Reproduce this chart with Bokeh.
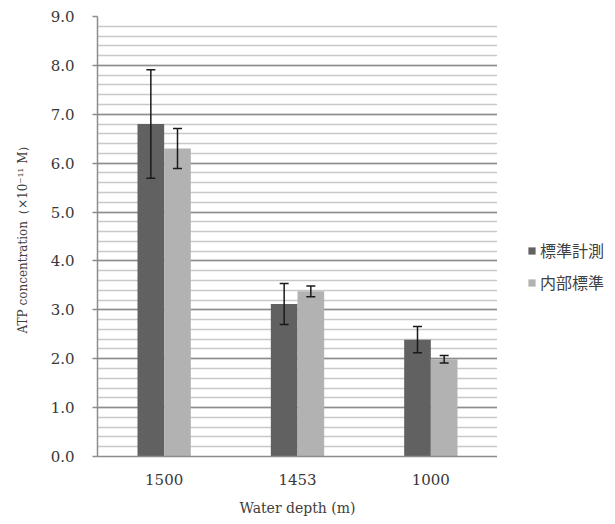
from bokeh.plotting import figure
from bokeh.layouts import row
from bokeh.models import FactorRange, ColumnDataSource, Range1d, SingleIntervalTicker, Legend, LegendItem, NumeralTickFormatter
from bokeh.transform import dodge
from bokeh.embed import file_html
from bokeh.resources import INLINE

depths = ["1500", "1453", "1000"]
standard = [6.80, 3.12, 2.39]
standard_err = [1.11, 0.42, 0.27]
internal = [6.30, 3.38, 1.99]
internal_err = [0.41, 0.11, 0.075]
series_names = ["標準計測", "内部標準"]

src = ColumnDataSource(dict(
    x=depths,
    s=standard, s_lo=[v - e for v, e in zip(standard, standard_err)], s_hi=[v + e for v, e in zip(standard, standard_err)],
    i=internal, i_lo=[v - e for v, e in zip(internal, internal_err)], i_hi=[v + e for v, e in zip(internal, internal_err)],
))

SERIF = "DejaVu Serif"
c_dark = "#616161"
c_light = "#b2b2b2"

p = figure(x_range=FactorRange(*depths, range_padding=0), y_range=Range1d(0, 9),
           width=497, height=524, output_backend="svg", toolbar_location=None,
           min_border_left=97, min_border_right=0, min_border_top=16, min_border_bottom=68)
p.outline_line_color = None
p.background_fill_color = "white"

r1 = p.vbar(x=dodge("x", -0.1, range=p.x_range), top="s", width=0.2, source=src,
            fill_color=c_dark, line_color=None)
r2 = p.vbar(x=dodge("x", 0.1, range=p.x_range), top="i", width=0.2, source=src,
            fill_color=c_light, line_color=None)

for off, lo, hi in [(-0.1, "s_lo", "s_hi"), (0.1, "i_lo", "i_hi")]:
    xd = dodge("x", off, range=p.x_range)
    p.segment(x0=xd, x1=xd, y0=lo, y1=hi, source=src, line_color="#1a1a1a", line_width=1.5)
    p.scatter(x=xd, y=lo, source=src, marker="dash", size=9, line_color="#1a1a1a", line_width=1.5)
    p.scatter(x=xd, y=hi, source=src, marker="dash", size=9, line_color="#1a1a1a", line_width=1.5)

# y axis
p.yaxis.ticker = SingleIntervalTicker(interval=1, num_minor_ticks=5)
p.yaxis.formatter = NumeralTickFormatter(format="0.0")
p.yaxis.axis_line_color = "#8c8c8c"
p.yaxis.axis_line_width = 1.5
p.yaxis.major_tick_line_color = "#8c8c8c"
p.yaxis.major_tick_line_width = 1.5
p.yaxis.major_tick_out = 5
p.yaxis.major_tick_in = 0
p.yaxis.minor_tick_line_color = None
p.yaxis.major_label_standoff = 18
p.yaxis.major_label_text_font = SERIF
p.yaxis.major_label_text_font_size = "15px"
p.yaxis.major_label_text_color = "#383838"
p.yaxis.axis_label = "ATP concentration（×10⁻¹¹ M）"
p.yaxis.axis_label_text_font = SERIF
p.yaxis.axis_label_text_font_size = "12px"
p.yaxis.axis_label_text_font_style = "normal"
p.yaxis.axis_label_text_color = "#404040"
p.yaxis.axis_label_standoff = 18

# x axis
p.xaxis.axis_line_color = "#8c8c8c"
p.xaxis.axis_line_width = 1.5
p.xaxis.major_tick_line_color = None
p.xaxis.minor_tick_line_color = None
p.xaxis.major_tick_out = 0
p.xaxis.major_label_standoff = 17
p.xaxis.major_label_text_font = SERIF
p.xaxis.major_label_text_font_size = "15px"
p.xaxis.major_label_text_color = "#383838"
p.xaxis.axis_label = "Water depth (m)"
p.xaxis.axis_label_text_font = SERIF
p.xaxis.axis_label_text_font_size = "14px"
p.xaxis.axis_label_text_font_style = "normal"
p.xaxis.axis_label_text_color = "#404040"
p.xaxis.axis_label_standoff = 12

p.xgrid.grid_line_color = None
p.ygrid.grid_line_color = "#8c8c8c"
p.ygrid.grid_line_width = 1.5
p.ygrid.minor_grid_line_color = "#c8c8c8"
p.ygrid.minor_grid_line_width = 1.5

# legend panel (separate figure to the right of the plot area)
lg = figure(x_range=Range1d(0, 1), y_range=Range1d(0, 1), width=118, height=524,
            output_backend="svg", toolbar_location=None, x_axis_type=None, y_axis_type=None,
            min_border_left=0, min_border_right=0, min_border_top=0, min_border_bottom=0)
lg.outline_line_color = None
lg.xgrid.grid_line_color = None
lg.ygrid.grid_line_color = None
nan = float("nan")
lr1 = lg.vbar(x=[nan], top=[nan], width=0.1, fill_color=c_dark, line_color=None)
lr2 = lg.vbar(x=[nan], top=[nan], width=0.1, fill_color=c_light, line_color=None)

legend = Legend(items=[LegendItem(label=series_names[0], renderers=[lr1]),
                       LegendItem(label=series_names[1], renderers=[lr2])],
                location=(30, 162), orientation="vertical",
                glyph_width=9, glyph_height=9, label_standoff=4,
                padding=0, margin=0, spacing=8, label_height=20,
                border_line_color=None, background_fill_alpha=0,
                label_text_font="Noto Sans CJK JP", label_text_font_size="16px",
                label_text_color="#404040")
lg.add_layout(legend)

layout = row(p, lg, spacing=0)
open("out.html", "w").write(file_html(layout, INLINE))
